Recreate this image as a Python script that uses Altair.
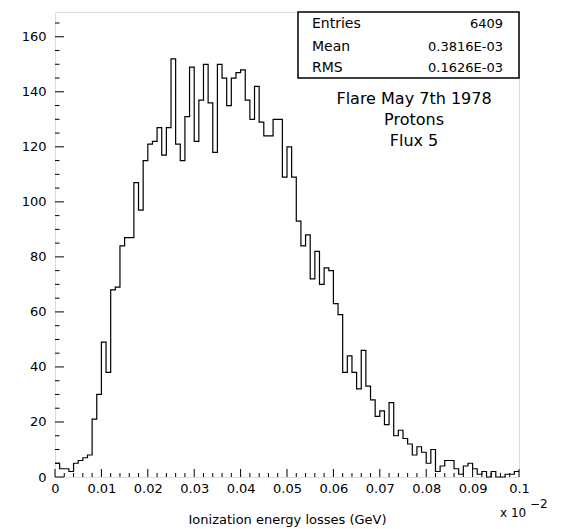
import altair as alt
import pandas as pd

# Histogram of ionization energy losses, 100 bins over [0, 0.1] x 10^-2 GeV
x_low, x_high, n_bins = 0.0, 0.1, 100
counts = [5, 3, 3, 2, 5, 6, 7, 8, 21, 30,
          49, 38, 68, 69, 84, 87, 87, 107, 97, 115,
          121, 122, 127, 117, 127, 152, 121, 115, 131, 149,
          122, 137, 150, 136, 118, 150, 145, 135, 145, 147,
          148, 137, 130, 142, 129, 124, 124, 130, 130, 109,
          120, 109, 93, 84, 88, 72, 82, 70, 76, 75,
          63, 59, 38, 44, 38, 32, 46, 33, 28, 22,
          24, 19, 27, 15, 17, 14, 12, 8, 11, 9,
          5, 10, 2, 4, 6, 6, 3, 1, 4, 5,
          3, 1, 2, 0, 2, 0, 0, 1, 1, 2]

stat_names = ["Entries", "Mean", "RMS"]
stat_values = ["6409", "0.3816E-03", "0.1626E-03"]
caption_lines = ["Flare May 7th 1978", "Protons", "Flux 5"]

x_major = [round(i * 0.01, 3) for i in range(11)]
x_minor = [round(i * 0.002, 4) for i in range(51) if i % 5]
y_major = list(range(0, 161, 20))
y_minor = [v for v in range(0, 166, 5) if v % 20]

W, H = 464, 465
FONT = "DejaVu Sans"

bin_w = (x_high - x_low) / n_bins
edges = [x_low + i * bin_w for i in range(n_bins)] + [x_high]
steps = pd.DataFrame({"x": edges, "n": counts + [counts[-1]]})

xs = alt.Scale(domain=[x_low, x_high], nice=False, zero=False)
ys = alt.Scale(domain=[0, 169], nice=False)

hist = alt.Chart(steps).mark_line(
    interpolate="step-after", color="black", strokeWidth=1.2
).encode(
    x=alt.X("x:Q", scale=xs, axis=alt.Axis(
        values=x_major, format="~g", ticks=False, tickSize=0, domain=False,
        grid=False, labelFont=FONT, labelFontSize=13, labelColor="black",
        labelPadding=5, labelFlush=False,
        title="Ionization energy losses (GeV)", titleFont=FONT,
        titleFontSize=13, titleFontWeight="normal", titleColor="black",
        titlePadding=18)),
    y=alt.Y("n:Q", scale=ys, axis=alt.Axis(
        values=y_major, ticks=False, tickSize=0, domain=False, grid=False,
        labelFont=FONT, labelFontSize=13, labelColor="black",
        labelPadding=9, title=None)),
)

# inward tick marks on the bottom and left edges
def xticks(vals, length):
    return alt.Chart(pd.DataFrame({"v": vals})).mark_rule(
        color="black", strokeWidth=1).encode(
        x=alt.X("v:Q", scale=xs), y=alt.value(H), y2=alt.value(H - length))

def yticks(vals, length):
    return alt.Chart(pd.DataFrame({"v": vals})).mark_rule(
        color="black", strokeWidth=1).encode(
        y=alt.Y("v:Q", scale=ys), x=alt.value(0), x2=alt.value(length))

# statistics box
box = alt.Chart(pd.DataFrame({"k": [0]})).mark_rect(
    fill="white", stroke="black", strokeWidth=1.5).encode(
    x=alt.value(243), x2=alt.value(W), y=alt.value(0), y2=alt.value(66))

stats = pd.DataFrame({"name": stat_names, "val": stat_values,
                      "row": [12, 35, 56]})
stat_names_txt = alt.Chart(stats).mark_text(
    align="left", baseline="middle", font=FONT, fontSize=14, color="black").encode(
    x=alt.value(257), y=alt.Y("row:Q", scale=None), text="name:N")
stat_vals_txt = alt.Chart(stats).mark_text(
    align="right", baseline="middle", font=FONT, fontSize=13, color="black").encode(
    x=alt.value(448), y=alt.Y("row:Q", scale=None), text="val:N")

caption = alt.Chart(pd.DataFrame({"t": caption_lines, "row": [87, 108, 129]})).mark_text(
    align="center", baseline="middle", font=FONT, fontSize=16, color="black").encode(
    x=alt.value(359), y=alt.Y("row:Q", scale=None), text="t:N")

exp_base = alt.Chart(pd.DataFrame({"t": ["x 10"]})).mark_text(
    align="left", baseline="middle", font=FONT, fontSize=12, color="black").encode(
    x=alt.value(445), y=alt.value(501), text="t:N")
exp_pow = alt.Chart(pd.DataFrame({"t": ["\u22122"]})).mark_text(
    align="left", baseline="middle", font=FONT, fontSize=12, color="black").encode(
    x=alt.value(475), y=alt.value(492), text="t:N")

chart = alt.layer(
    hist,
    xticks(x_major, 8), xticks(x_minor, 4),
    yticks(y_major, 9), yticks(y_minor, 4.5),
    box, stat_names_txt, stat_vals_txt, caption, exp_base, exp_pow,
).properties(
    width=W, height=H,
    padding={"left": 55, "top": 12, "right": 44, "bottom": 52},
    autosize=alt.AutoSizeParams(type="none"),
).configure_view(
    stroke="black", strokeWidth=1.5
).configure(background="white")

chart.save("out.html", embed_options={"renderer": "svg", "actions": False})
